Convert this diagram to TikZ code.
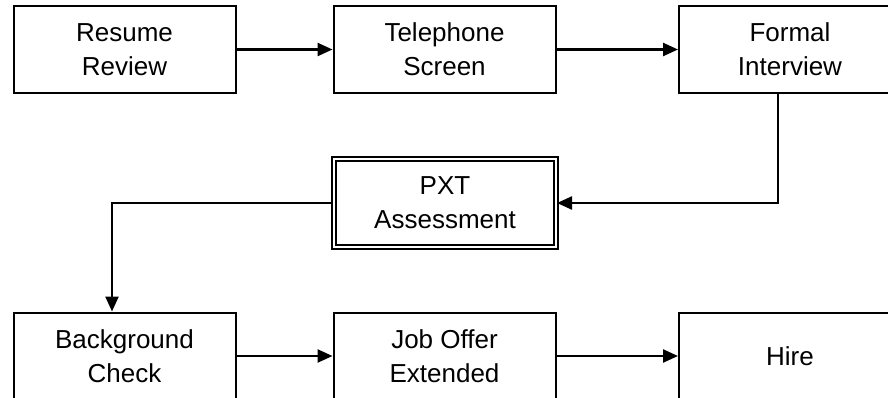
\documentclass[tikz,border=0pt]{standalone}
\usepackage{fontspec}
\setmainfont{Liberation Sans}
\usetikzlibrary{arrows.meta}
\begin{document}
\begin{tikzpicture}[x=1pt,y=1pt,
  stepbox/.style={draw=black, line width=2pt, minimum width=222pt, minimum height=87pt,
    inner sep=0pt, align=center, font=\fontsize{26}{34}\selectfont},
  dblbox/.style={stepbox, double, double distance=2pt, line width=2pt,
    minimum width=222pt, minimum height=88pt},
  conn/.style={line width=2.4pt, -{Triangle[length=15pt,width=13pt]}}]
\clip (0,0) rectangle (888,-398);
\fill[white] (0,0) rectangle (888,-398);
\node[stepbox] (rr) at (124.5,-49.5) {Resume\\Review};
\node[stepbox] (ts) at (444.5,-49.5) {Telephone\\Screen};
\node[stepbox] (fi) at (790,-49.5) {Formal\\Interview};
\node[dblbox] (pxt) at (445,-203) {PXT\\Assessment};
\node[stepbox] (bc) at (124.5,-356) {Background\\Check};
\node[stepbox] (jo) at (444.5,-356) {Job Offer\\Extended};
\node[stepbox] (hi) at (790,-356) {Hire};
\draw[conn] (rr.east) -- (ts.west);
\draw[conn] (ts.east) -- (fi.west);
\draw[conn] ([xshift=-12pt]fi.south) |- (pxt.east);
\draw[conn] (pxt.west) -| ([xshift=-12.5pt]bc.north);
\draw[conn] (bc.east) -- (jo.west);
\draw[conn] (jo.east) -- (hi.west);
\end{tikzpicture}
\end{document}
